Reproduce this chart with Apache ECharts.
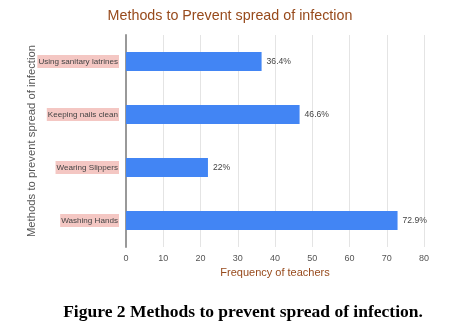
<!DOCTYPE html>
<html><head><meta charset="utf-8">
<script src="https://cdn.jsdelivr.net/npm/echarts@6/dist/echarts.min.js"></script>
<style>html,body{margin:0;padding:0;background:#fff}#c{width:475px;height:323px}</style>
</head><body><div id="c"></div>
<script>
const categories = ["Using sanitary latrines", "Keeping nails clean", "Wearing Slippers", "Washing Hands"];
const values = [36.4, 46.6, 22, 72.9];
const valueLabels = ["36.4%", "46.6%", "22%", "72.9%"];
const xTicks = [0, 10, 20, 30, 40, 50, 60, 70, 80];

const chart = echarts.init(document.getElementById('c'), null, {renderer: 'canvas'});
chart.setOption({
  animation: false,
  title: [
    {text: "Methods to Prevent spread of infection", left: 225, top: 4, textAlign: 'center',
     textStyle: {fontFamily: 'Liberation Sans, Arial', fontSize: 14.3, fontWeight: 'normal', color: '#974a1c'}},
    {text: "Figure 2 Methods to prevent spread of infection.", left: 238, top: 298, textAlign: 'center',
     textStyle: {fontFamily: 'Liberation Serif, Times New Roman', fontSize: 17.5, fontWeight: 'bold', color: '#000'}}
  ],
  grid: {left: 126, right: 51, top: 35, bottom: 76},
  xAxis: {
    type: 'value', min: 0, max: 80, interval: 10,
    name: "Frequency of teachers", nameLocation: 'middle', nameGap: 20,
    nameTextStyle: {fontFamily: 'Liberation Sans, Arial', fontSize: 11, color: '#974a1c'},
    axisLine: {show: false}, axisTick: {show: false},
    axisLabel: {fontFamily: 'Liberation Sans, Arial', fontSize: 9, color: '#555', margin: 7,
      formatter: v => xTicks.includes(v) ? String(v) : ''},
    splitLine: {show: true, lineStyle: {color: '#e4e4e4', width: 1}}
  },
  yAxis: {
    type: 'category', data: categories, inverse: true,
    name: "Methods to prevent spread of infection", nameLocation: 'middle', nameGap: 89,
    nameMoveOverlap: false,
    nameTextStyle: {fontFamily: 'Liberation Sans, Arial', fontSize: 11.3, color: '#555'},
    axisLine: {show: true, lineStyle: {color: '#999', width: 2}},
    axisTick: {show: false},
    axisLabel: {fontFamily: 'Liberation Sans, Arial', fontSize: 8.1, color: '#444', margin: 7,
      backgroundColor: '#f4c7c3', padding: [3, 1, 2, 1]}
  },
  series: [{
    type: 'bar', data: values, barWidth: 19,
    itemStyle: {color: '#4285f4'},
    label: {show: true, position: 'right', distance: 5,
      fontFamily: 'Liberation Sans, Arial', fontSize: 8.6, color: '#444',
      formatter: p => valueLabels[p.dataIndex]}
  }]
});
</script></body></html>
